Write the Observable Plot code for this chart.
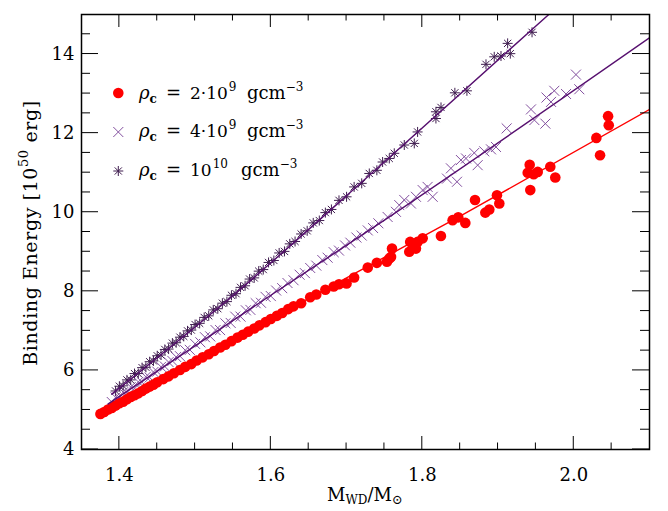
<!DOCTYPE html>
<html><head><meta charset="utf-8">
<script src="https://cdn.jsdelivr.net/npm/d3@7"></script>
<script src="https://cdn.jsdelivr.net/npm/@observablehq/plot@0.6"></script>
<style>
body{margin:0;background:#fff;}
#chart{position:relative;width:668px;height:511px;}
text{white-space:pre;}
</style></head><body><div id="chart"></div>
<script>
// ---- Data ----
const redX = [1.375,1.38,1.385,1.39,1.395,1.40,1.405,1.41,1.415,1.42,1.425,1.43,1.435,1.44,1.445,1.45,1.458,1.465,1.472,1.48,1.487,1.495,1.502,1.51,1.518,1.525,1.533,1.54,1.548,1.556,1.563,1.57,1.578,1.585,1.593,1.60,1.608,1.615,1.623,1.63,1.64,1.652,1.66,1.672,1.683,1.69,1.70,1.71,1.728,1.74,
  1.7533,1.7587,1.760,1.7564,1.7828,1.784,1.7916,1.7938,1.8005,1.8246,1.840,1.8475,1.8568,1.8696,1.8832,1.8885,1.8986,1.9017,1.9426,1.9392,1.9418,1.9471,1.9524,1.969,1.9756,2.0298,2.0347,2.0453,2.0462];
const redY = [4.90,4.95,5.01,5.05,5.11,5.17,5.21,5.27,5.33,5.37,5.42,5.48,5.54,5.59,5.64,5.70,5.78,5.85,5.93,6.01,6.09,6.16,6.25,6.33,6.41,6.49,6.58,6.65,6.74,6.83,6.90,6.98,7.06,7.14,7.22,7.30,7.38,7.45,7.55,7.62,7.70,7.85,7.92,8.04,8.12,8.18,8.20,8.35,8.60,8.72,
  8.75,8.87,9.08,8.83,9.00,9.25,9.08,9.25,9.34,9.40,9.80,9.87,9.73,10.31,9.99,10.07,10.43,10.22,10.56,11.00,11.20,10.96,11.02,11.15,10.88,11.88,11.44,12.43,12.20];

const timesX = [1.39,1.395,1.40,1.405,1.41,1.415,1.42,1.425,1.43,1.435,1.44,1.445,1.45,1.455,1.46,1.465,1.47,1.475,1.48,1.487,1.493,1.50,1.507,1.513,1.52,1.527,1.533,1.54,1.547,1.553,1.56,1.567,1.573,1.58,1.587,1.593,1.60,1.607,1.615,1.622,1.63,1.638,1.645,1.652,1.66,1.668,1.675,1.683,1.69,1.698,1.705,1.713,1.72,1.728,1.735,1.742,
  1.7542,1.7652,1.7696,1.7762,1.785,1.7916,1.8005,1.807,1.8137,1.8326,1.8458,1.8378,1.851,1.8577,1.8686,1.8731,1.8818,1.8907,1.8973,1.9114,1.9625,1.948,1.9435,1.97,1.964,1.9743,1.9898,2.0073,2.0029];
const timesY = [5.20,5.32,5.31,5.45,5.44,5.58,5.55,5.71,5.70,5.84,5.82,5.96,5.97,6.09,6.10,6.21,6.24,6.34,6.36,6.51,6.52,6.67,6.71,6.84,6.86,7.02,7.02,7.19,7.20,7.36,7.36,7.52,7.53,7.70,7.71,7.86,7.88,8.02,8.08,8.21,8.28,8.42,8.46,8.59,8.65,8.79,8.85,8.99,9.03,9.16,9.23,9.36,9.41,9.54,9.60,9.72,
  9.88,10.01,10.18,10.31,10.22,10.39,10.56,10.64,10.39,10.85,10.77,11.11,11.32,11.36,11.50,11.19,11.54,11.59,11.65,12.12,12.24,12.33,12.60,12.79,12.90,13.07,12.99,13.11,13.48];

const starX = [1.395,1.40,1.405,1.41,1.415,1.42,1.425,1.43,1.435,1.44,1.445,1.45,1.455,1.46,1.465,1.47,1.475,1.48,1.485,1.49,1.495,1.50,1.506,1.512,1.518,1.524,1.53,1.536,1.542,1.548,1.554,1.56,1.566,1.572,1.578,1.584,1.59,1.597,1.604,1.611,1.618,1.625,1.632,1.64,1.648,1.656,1.664,1.672,1.68,1.69,1.70,1.71,1.72,1.73,1.74,
  1.7476,1.7564,1.763,1.7762,1.7894,1.7938,1.818,1.818,1.8247,1.843,1.8589,1.8841,1.895,1.9039,1.9162,1.9127,1.9449];
const starY = [5.48,5.60,5.61,5.76,5.76,5.92,5.92,6.07,6.08,6.22,6.24,6.37,6.39,6.53,6.54,6.69,6.70,6.84,6.86,7.00,7.02,7.16,7.19,7.34,7.38,7.53,7.56,7.70,7.74,7.90,7.94,8.10,8.14,8.31,8.34,8.51,8.55,8.73,8.78,8.97,9.01,9.20,9.26,9.45,9.53,9.73,9.79,9.99,10.07,10.30,10.39,10.64,10.73,10.98,11.06,
  11.27,11.36,11.49,11.70,11.74,12.03,12.37,12.54,12.65,13.02,13.07,13.74,13.93,13.95,14.01,14.27,14.55];

// fitted relations (lines)
const redLineX = [1.37, 1.60, 1.85, 2.10];
const redLineY = [4.85, 7.30, 9.90, 12.60];
const timesLineX = [1.385, 1.60, 1.75, 2.10];
const timesLineY = [5.15, 7.90, 9.80, 14.41];
const starLineX = [1.39, 1.543, 1.745, 1.967];
const starLineY = [5.40, 7.78, 11.19, 15.00];

// axes
const xMajorTicks = [1.4, 1.6, 1.8, 2.0];
const xMinorTicks = [1.45, 1.5, 1.55, 1.65, 1.7, 1.75, 1.85, 1.9, 1.95, 2.05];
const yMajorTicks = [4, 6, 8, 10, 12, 14];
const yMinorTicks = [4.5, 5, 5.5, 6.5, 7, 7.5, 8.5, 9, 9.5, 10.5, 11, 11.5, 12.5, 13, 13.5, 14.5];
const xDomain = [1.35, 2.1];
const yDomain = [4, 15];

// ---- Build ----
const W = 668, H = 511, mL = 81, mR = 19, mT = 14, mB = 62;
const RED = "#ff0000", XCOL = "#83509f", STARCOL = "#3f1d4f", LINECOL = "#57106f";

const zip = (xs, ys) => xs.map((x, i) => ({x, y: ys[i]}));
const red = zip(redX, redY), times = zip(timesX, timesY), stars = zip(starX, starY);

const symTimes = {draw(ctx, size) { const r = Math.sqrt(size / Math.PI);
  ctx.moveTo(-r, -r); ctx.lineTo(r, r); ctx.moveTo(r, -r); ctx.lineTo(-r, r); }};
const symStar = {draw(ctx, size) { const r = Math.sqrt(size / Math.PI), d = r * 0.72;
  ctx.moveTo(0, -r); ctx.lineTo(0, r); ctx.moveTo(-r, 0); ctx.lineTo(r, 0);
  ctx.moveTo(-d, -d); ctx.lineTo(d, d); ctx.moveTo(d, -d); ctx.lineTo(-d, d); }};

const plot = Plot.plot({
  width: W, height: H,
  marginLeft: mL, marginRight: mR, marginTop: mT, marginBottom: mB,
  style: {fontFamily: "'DejaVu Serif', serif", fontSize: "18px", background: "white", color: "black"},
  x: {domain: xDomain, axis: null},
  y: {domain: yDomain, axis: null},
  marks: [
    Plot.dot(times, {x: "x", y: "y", symbol: symTimes, r: 5, stroke: XCOL, strokeWidth: 1, fill: "none"}),
    Plot.dot(stars, {x: "x", y: "y", symbol: symStar, r: 5, stroke: STARCOL, strokeWidth: 1, fill: "none"}),
    Plot.dot(red, {x: "x", y: "y", r: 5.3, fill: RED, stroke: "none"}),
    Plot.line(zip(redLineX, redLineY), {x: "x", y: "y", stroke: RED, strokeWidth: 1.4, curve: "monotone-x", clip: true}),
    Plot.line(zip(timesLineX, timesLineY), {x: "x", y: "y", stroke: LINECOL, strokeWidth: 1.4, curve: "monotone-x", clip: true}),
    Plot.line(zip(starLineX, starLineY), {x: "x", y: "y", stroke: LINECOL, strokeWidth: 1.4, curve: "monotone-x", clip: true}),
    Plot.axisX({ticks: xMajorTicks, tickSize: 0, tickPadding: 19, tickFormat: d3.format(".1f"), fontSize: 18, label: null}),
    Plot.axisY({ticks: yMajorTicks, tickSize: 0, tickPadding: 7, tickFormat: d3.format("d"), fontSize: 18, label: null}),
    Plot.frame({stroke: "black", strokeWidth: 1.5})
  ]
});
document.getElementById("chart").appendChild(plot);

// ---- Inward, mirrored ticks through the plot's own scales ----
const svg = d3.select(plot);
const sx = plot.scale("x"), sy = plot.scale("y");
const x0 = mL, x1 = W - mR, y0 = mT, y1 = H - mB;
const tg = svg.append("g").attr("stroke", "black").attr("stroke-width", 1);
function xt(v, len) { const px = sx.apply(v);
  tg.append("line").attr("x1", px).attr("x2", px).attr("y1", y1).attr("y2", y1 - len);
  tg.append("line").attr("x1", px).attr("x2", px).attr("y1", y0).attr("y2", y0 + len); }
function yt(v, len) { const py = sy.apply(v);
  tg.append("line").attr("y1", py).attr("y2", py).attr("x1", x0).attr("x2", x0 + len);
  tg.append("line").attr("y1", py).attr("y2", py).attr("x1", x1).attr("x2", x1 - len); }
xMajorTicks.forEach(v => xt(v, 13)); xMinorTicks.forEach(v => xt(v, 6.5));
yMajorTicks.forEach(v => yt(v, 17)); yMinorTicks.forEach(v => yt(v, 9));

// ---- Labels and legend ----
const ff = "'DejaVu Serif', serif";
const yl = svg.append("text").attr("transform", "translate(30,233) rotate(-90)")
  .attr("text-anchor", "middle").attr("dominant-baseline", "central")
  .attr("font-family", ff).attr("font-size", 19).attr("letter-spacing", 0.6).attr("fill", "black");
yl.append("tspan").text("Binding Energy [10");
yl.append("tspan").attr("font-size", 13).attr("dy", -7).text("50");
yl.append("tspan").attr("dy", 7).text(" erg]");
const xl = svg.append("text").attr("x", 365).attr("y", 501)
  .attr("text-anchor", "middle").attr("font-family", ff).attr("font-size", 18).attr("fill", "black");
xl.append("tspan").text("M");
xl.append("tspan").attr("font-size", 12).attr("dy", 3).text("WD");
xl.append("tspan").attr("dy", -3).text("/M");
xl.append("tspan").attr("font-size", 13).attr("dy", 3).text("⊙");

const legRows = [
  {y: 93, kind: "dot", exp: "9", pre: "2·10", gx: 247},
  {y: 131, kind: "times", exp: "9", pre: "4·10", gx: 247},
  {y: 170, kind: "star", exp: "10", pre: "10", gx: 241}
];
for (const row of legRows) {
  if (row.kind === "dot") {
    svg.append("circle").attr("cx", 118.3).attr("cy", row.y).attr("r", 5.3).attr("fill", RED);
  } else {
    const p = d3.path(); (row.kind === "times" ? symTimes : symStar).draw(p, 25 * Math.PI);
    svg.append("path").attr("d", p.toString()).attr("transform", `translate(118.3,${row.y + 1})`)
      .attr("fill", "none").attr("stroke", row.kind === "times" ? XCOL : STARCOL).attr("stroke-width", 1);
  }
  const by = row.y + 6;
  const t = svg.append("text").attr("y", by).attr("text-anchor", "start")
    .attr("font-family", ff).attr("font-size", 18).attr("fill", "black");
  t.append("tspan").attr("x", 139).attr("y", by).attr("font-style", "italic").text("ρ");
  t.append("tspan").attr("font-size", 12).attr("font-weight", "bold").attr("y", by + 4).text("c");
  t.append("tspan").attr("x", 166).attr("y", by).text("=");
  t.append("tspan").attr("x", 190).attr("y", by).attr("font-size", 17).text(row.pre);
  t.append("tspan").attr("font-size", 12).attr("dx", 1).attr("y", by - 8).text(row.exp);
  t.append("tspan").attr("x", row.gx).attr("y", by).text("gcm");
  t.append("tspan").attr("font-size", 12).attr("y", by - 8).text("−3");
}
</script></body></html>
